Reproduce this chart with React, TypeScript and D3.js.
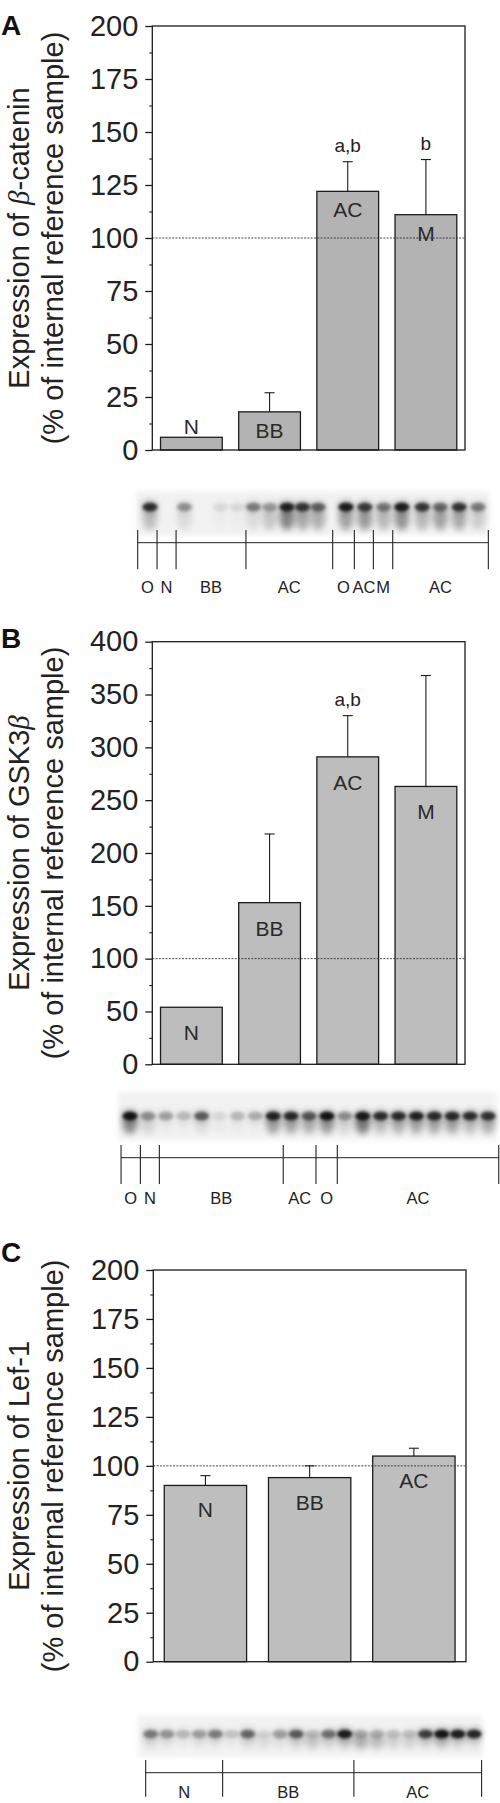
import React, { useEffect, useRef } from "react";
import * as d3 from "d3";

const W = 500;
const H = 1803;
const FONT = "'Liberation Sans', Arial, Helvetica, sans-serif";

// ---- panel A: beta-catenin ----
const catGroups = ["N", "BB", "AC", "M"];
const catValues = [6, 18, 122, 111];
const catErr = [0, 9, 14, 26];
const catSig = ["", "", "a,b", "b"];
const catTicks = [0, 25, 50, 75, 100, 125, 150, 175, 200];

// ---- panel B: GSK3beta ----
const gskGroups = ["N", "BB", "AC", "M"];
const gskValues = [54, 153, 291, 263];
const gskErr = [0, 65, 39, 105];
const gskSig = ["", "", "a,b", ""];
const gskTicks = [0, 50, 100, 150, 200, 250, 300, 350, 400];

// ---- panel C: Lef-1 ----
const lefGroups = ["N", "BB", "AC"];
const lefValues = [90, 94, 105];
const lefErr = [5, 6, 4];
const lefSig = ["", "", ""];
const lefTicks = [0, 25, 50, 75, 100, 125, 150, 175, 200];

// blots: lane position (lane units), band and smear darkness
const blotAPos = [0, 2.1, 4.3, 5.3, 6.3, 7.3, 8.35, 9.3, 10.25, 11.95, 13.1, 14.25, 15.35, 16.6, 17.7, 18.85, 20];
const blotABand = [0.85, 0.35, 0.08, 0.08, 0.45, 0.3, 0.9, 0.8, 0.55, 0.95, 0.75, 0.45, 0.95, 0.8, 0.5, 0.8, 0.45];
const blotASmear = [0.35, 0.15, 0.03, 0.03, 0.15, 0.3, 0.75, 0.5, 0.45, 0.55, 0.6, 0.4, 0.65, 0.4, 0.55, 0.5, 0.25];
const blotAGroups = ["O", "N", "BB", "AC", "O", "AC", "M", "AC"];
const blotABounds = [-0.75, 0.43, 1.59, 5.85, 11.14, 12.46, 13.62, 14.8, 20.63];

const blotBBand = [1.0, 0.35, 0.3, 0.2, 0.6, 0.08, 0.2, 0.25, 0.9, 0.85, 0.6, 1.0, 0.35, 0.95, 0.85, 0.85, 0.9, 0.85, 0.85, 0.85, 0.8];
const blotBSmear = [0.7, 0.2, 0.05, 0.05, 0.15, 0.05, 0.05, 0.05, 0.55, 0.5, 0.45, 0.6, 0.2, 0.8, 0.35, 0.45, 0.5, 0.5, 0.5, 0.35, 0.45];
const blotBGroups = ["O", "N", "BB", "AC", "O", "AC"];
const blotBBounds = [-0.5, 0.58, 1.64, 8.56, 10.39, 11.58, 20.6];

const blotCBand = [0.45, 0.35, 0.2, 0.3, 0.45, 0.15, 0.55, 0.08, 0.3, 0.6, 0.15, 0.5, 0.95, 0.2, 0.2, 0.15, 0.15, 0.75, 1.0, 0.95, 0.9];
const blotCSmear = [0.15, 0.1, 0.05, 0.1, 0.1, 0.05, 0.15, 0.15, 0.1, 0.2, 0.3, 0.2, 0.3, 0.45, 0.35, 0.2, 0.2, 0.2, 0.35, 0.2, 0.15];
const blotCGroups = ["N", "BB", "AC"];
const blotCBounds = [-0.31, 4.45, 12.57, 20.47];

function drawPanel(svg: any, p: any) {
  const g = svg.append("g");
  const x = d3.scaleBand().domain(p.groups).range([p.left, p.right]).paddingInner(0.21).paddingOuter(0.105);
  const y = d3.scaleLinear().domain([0, p.max]).range([p.bottom, p.top]);

  g.selectAll("rect.bar")
    .data(p.values)
    .enter()
    .append("rect")
    .attr("x", (d: number, i: number) => x(p.groups[i]))
    .attr("y", (d: number) => y(d))
    .attr("width", x.bandwidth())
    .attr("height", (d: number) => y(0) - y(d))
    .attr("fill", p.fill)
    .attr("stroke", "#1c1c1c")
    .attr("stroke-width", 1.3);

  // reference line at 100 %
  g.append("line")
    .attr("x1", p.left).attr("x2", p.right)
    .attr("y1", y(100)).attr("y2", y(100))
    .attr("stroke", "#333").attr("stroke-width", 0.9)
    .attr("stroke-dasharray", "2,1.3");

  // error bars (upper only)
  p.values.forEach((v: number, i: number) => {
    if (!p.errors[i]) return;
    const cx = x(p.groups[i])! + x.bandwidth() / 2;
    g.append("line").attr("x1", cx).attr("x2", cx).attr("y1", y(v)).attr("y2", y(v + p.errors[i]))
      .attr("stroke", "#1c1c1c").attr("stroke-width", 1.1);
    g.append("line").attr("x1", cx - 5).attr("x2", cx + 5).attr("y1", y(v + p.errors[i])).attr("y2", y(v + p.errors[i]))
      .attr("stroke", "#1c1c1c").attr("stroke-width", 1.1);
    if (p.sig[i]) {
      g.append("text").attr("x", cx).attr("y", y(v + p.errors[i]) - 10)
        .attr("text-anchor", "middle").attr("font-family", FONT).attr("font-size", 19).attr("fill", "#222")
        .text(p.sig[i]);
    }
  });

  // group labels on the bars
  p.values.forEach((v: number, i: number) => {
    const cx = x(p.groups[i])! + x.bandwidth() / 2;
    const h = y(0) - y(v);
    const ly = h < 30 ? y(v) - 3 : y(v) + p.labelOffset;
    g.append("text").attr("x", cx).attr("y", ly)
      .attr("text-anchor", "middle").attr("font-family", FONT).attr("font-size", 21).attr("fill", "#2a2a2a")
      .text(p.groups[i]);
  });

  // frame
  g.append("rect")
    .attr("x", p.left).attr("y", p.top)
    .attr("width", p.right - p.left).attr("height", p.bottom - p.top)
    .attr("fill", "none").attr("stroke", "#1c1c1c").attr("stroke-width", 1.3);

  // y axis
  const minor = p.ticks.slice(0, -1).map((t: number, i: number) => (t + p.ticks[i + 1]) / 2);
  const ax = g.append("g").attr("transform", `translate(${p.left},0)`)
    .call(d3.axisLeft(y).tickValues(p.ticks).tickSize(7).tickPadding(7).tickFormat(d3.format("d")));
  ax.select(".domain").remove();
  ax.selectAll("line").attr("stroke", "#1c1c1c").attr("stroke-width", 1.3);
  ax.selectAll("text").attr("font-family", FONT).attr("font-size", 29).attr("fill", "#222");
  const axm = g.append("g").attr("transform", `translate(${p.left},0)`)
    .call(d3.axisLeft(y).tickValues(minor).tickSize(3).tickFormat(() => ""));
  axm.select(".domain").remove();
  axm.selectAll("line").attr("stroke", "#1c1c1c").attr("stroke-width", 1.1);

  // y title, two lines
  const cy = (p.top + p.bottom) / 2;
  const t1 = g.append("text")
    .attr("x", 29).attr("y", cy)
    .attr("transform", `rotate(-90,29,${cy})`)
    .attr("text-anchor", "middle").attr("font-family", FONT).attr("font-size", 29).attr("fill", "#222");
  t1.append("tspan").text(p.title[0]);
  if (p.title[1]) t1.append("tspan").attr("font-family", "'Liberation Serif', 'DejaVu Serif', serif").attr("font-style", "italic").text(p.title[1]);
  if (p.title[2]) t1.append("tspan").text(p.title[2]);
  g.append("text")
    .attr("x", 63).attr("y", cy)
    .attr("transform", `rotate(-90,63,${cy})`)
    .attr("text-anchor", "middle").attr("font-family", FONT).attr("font-size", 29).attr("fill", "#222")
    .text("(% of internal reference sample)");

  // panel letter
  g.append("text").attr("x", 1).attr("y", p.letterY)
    .attr("font-family", FONT).attr("font-weight", "bold").attr("font-size", 28).attr("fill", "#111")
    .text(p.letter);
}

function drawBlot(svg: any, b: any) {
  const g = svg.append("g");
  const x = d3.scaleLinear().domain([0, 20]).range(b.laneRange);
  g.append("rect").attr("x", b.box[0]).attr("y", b.box[1])
    .attr("width", b.box[2] - b.box[0]).attr("height", b.box[3] - b.box[1])
    .attr("fill", "#f2f2f2").attr("filter", "url(#blurBg)");

  b.pos.forEach((ln: number, i: number) => {
    // smear running down the lane
    g.append("ellipse").attr("cx", x(ln)).attr("cy", b.smearY)
      .attr("rx", 7.5).attr("ry", b.smearRy)
      .attr("fill", "#000").attr("opacity", b.smear[i] * 0.6)
      .attr("filter", "url(#blurSmear)");
    // halo round the band
    g.append("ellipse").attr("cx", x(ln)).attr("cy", b.bandY)
      .attr("rx", 8.5).attr("ry", 6.5)
      .attr("fill", "#000").attr("opacity", b.band[i] * 0.35)
      .attr("filter", "url(#blurSmear)");
    // band core
    g.append("ellipse").attr("cx", x(ln)).attr("cy", b.bandY)
      .attr("rx", 7.5).attr("ry", 4.2)
      .attr("fill", "#000").attr("opacity", b.band[i] * 0.85)
      .attr("filter", "url(#blurBand)");
  });

  // bracket with group labels
  const bx = b.bounds.map((v: number) => x(v));
  g.append("line").attr("x1", bx[0]).attr("x2", bx[bx.length - 1])
    .attr("y1", b.lineY).attr("y2", b.lineY)
    .attr("stroke", "#222").attr("stroke-width", 1);
  bx.forEach((v: number) => {
    g.append("line").attr("x1", v).attr("x2", v).attr("y1", b.tickTop).attr("y2", b.tickBottom)
      .attr("stroke", "#222").attr("stroke-width", 1.1);
  });
  b.groups.forEach((lab: string, i: number) => {
    g.append("text").attr("x", (bx[i] + bx[i + 1]) / 2).attr("y", b.labelY)
      .attr("text-anchor", "middle").attr("font-family", FONT).attr("font-size", 16.5).attr("fill", "#222")
      .text(lab);
  });
}

export default function App() {
  const ref = useRef<SVGSVGElement>(null);

  useEffect(() => {
    const svg = d3.select(ref.current);
    svg.selectAll("*").remove();
    svg.append("rect").attr("width", W).attr("height", H).attr("fill", "#fff");

    const defs = svg.append("defs");
    defs.append("filter").attr("id", "blurBand").attr("x", "-100%").attr("y", "-200%").attr("width", "300%").attr("height", "500%")
      .append("feGaussianBlur").attr("stdDeviation", 1.8);
    defs.append("filter").attr("id", "blurSmear").attr("x", "-100%").attr("y", "-100%").attr("width", "300%").attr("height", "300%")
      .append("feGaussianBlur").attr("stdDeviation", 3.2);
    defs.append("filter").attr("id", "blurBg").attr("x", "-10%").attr("y", "-50%").attr("width", "120%").attr("height", "200%")
      .append("feGaussianBlur").attr("stdDeviation", 2);

    drawPanel(svg, {
      letter: "A", letterY: 35, top: 26, bottom: 450, left: 152.3, right: 465,
      max: 200, ticks: catTicks, groups: catGroups, values: catValues, errors: catErr, sig: catSig,
      title: ["Expression of ", "\u03B2", "-catenin"], fill: "#b3b3b3", labelOffset: 26,
    });
    drawPanel(svg, {
      letter: "B", letterY: 648, top: 641.7, bottom: 1064.3, left: 152.3, right: 465,
      max: 400, ticks: gskTicks, groups: gskGroups, values: gskValues, errors: gskErr, sig: gskSig,
      title: ["Expression of GSK3", "\u03B2", ""], fill: "#bdbdbd", labelOffset: 33,
    });
    drawPanel(svg, {
      letter: "C", letterY: 1262, top: 1270, bottom: 1661.7, left: 153.3, right: 466,
      max: 200, ticks: lefTicks, groups: lefGroups, values: lefValues, errors: lefErr, sig: lefSig,
      title: ["Expression of Lef-1", "", ""], fill: "#bebebe", labelOffset: 32,
    });

    drawBlot(svg, {
      laneRange: [150, 478], box: [136, 491.5, 490, 535.5], pos: blotAPos, band: blotABand, smear: blotASmear,
      bandY: 507, smearY: 518, smearRy: 12,
      bounds: blotABounds, groups: blotAGroups, lineY: 542.7, tickTop: 530, tickBottom: 569.3, labelY: 592.7,
    });
    drawBlot(svg, {
      laneRange: [130, 488], box: [118, 1092, 497, 1140], pos: d3.range(blotBBand.length), band: blotBBand, smear: blotBSmear,
      bandY: 1116, smearY: 1124, smearRy: 10,
      bounds: blotBBounds, groups: blotBGroups, lineY: 1157.7, tickTop: 1145, tickBottom: 1184, labelY: 1204,
    });
    drawBlot(svg, {
      laneRange: [150.7, 474], box: [138, 1716, 483, 1757], pos: d3.range(blotCBand.length), band: blotCBand, smear: blotCSmear,
      bandY: 1734, smearY: 1741, smearRy: 8,
      bounds: blotCBounds, groups: blotCGroups, lineY: 1772.7, tickTop: 1760, tickBottom: 1796.7, labelY: 1798,
    });
  }, []);

  return (
    <svg ref={ref} width={W} height={H} style={{ position: "absolute", left: 0, top: 0 }} />
  );
}
